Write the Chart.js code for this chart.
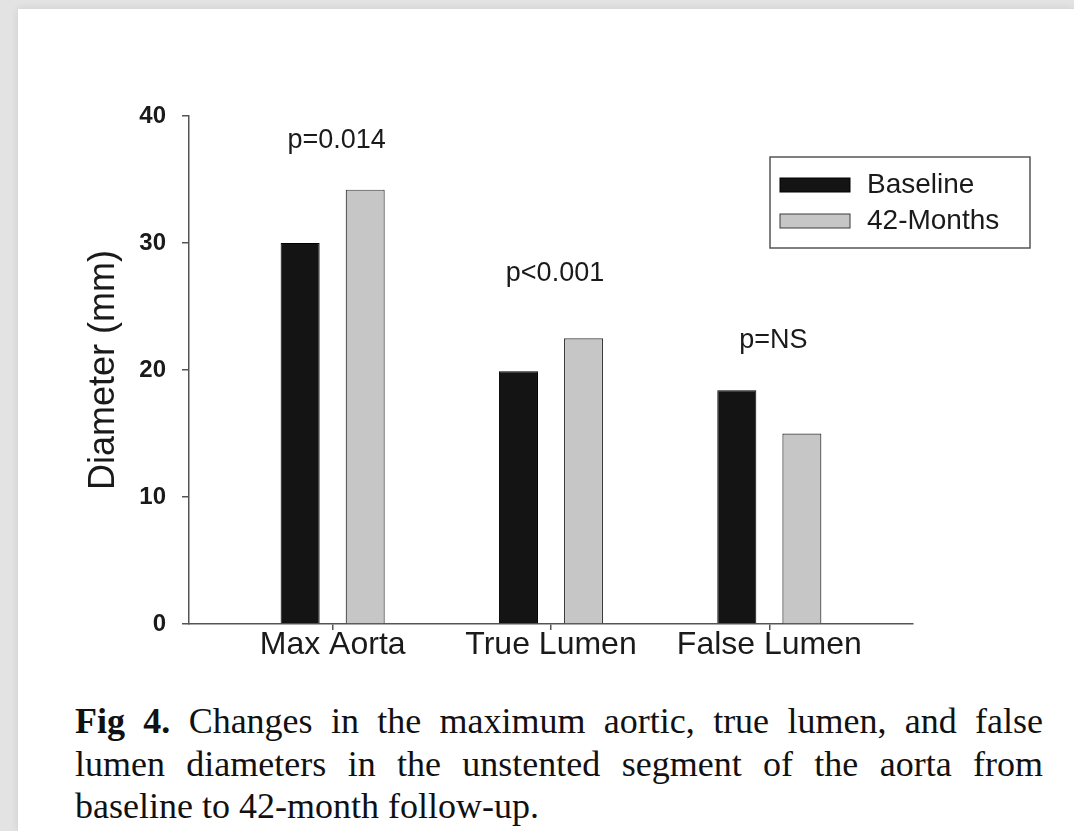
<!DOCTYPE html>
<html>
<head>
<meta charset="utf-8">
<script src="https://cdn.jsdelivr.net/npm/chart.js@4.4.1/dist/chart.umd.min.js"></script>
<style>
  html, body { margin: 0; padding: 0; }
  body { width: 1074px; height: 831px; background: #e3e3e3; position: relative; overflow: hidden; }
  .page { position: absolute; left: 18px; top: 9px; right: 0; bottom: 0; background: #fff; box-shadow: 0 0 8px rgba(0,0,0,0.10); }
  .chart-box { position: absolute; left: 0; top: 0; width: 1074px; height: 690px; }
  .caption { position: absolute; left: 75px; top: 700px; width: 968px; font-family: "Liberation Serif", "Times New Roman", serif; font-size: 36px; line-height: 42.5px; color: #111; }
  .caption .ln { text-align: justify; text-align-last: justify; }
  .caption .last { text-align: left; }
</style>
</head>
<body>
<div class="page"></div>
<div class="chart-box"><canvas id="myChart"></canvas></div>
<div class="caption">
  <div class="ln"><b>Fig 4.</b> Changes in the maximum aortic, true lumen, and false</div>
  <div class="ln">lumen diameters in the unstented segment of the aorta from</div>
  <div class="last">baseline to 42-month follow-up.</div>
</div>
<script>
const categories = ["Max Aorta", "True Lumen", "False Lumen"];
const baseline = [30.0, 19.9, 18.4];
const months42 = [34.2, 22.5, 15.0];
const pLabels = ["p=0.014", "p<0.001", "p=NS"];
const pLabelY = [38.1, 27.6, 22.3];
const yTicks = [0, 10, 20, 30, 40];

const FONT = '"Liberation Sans", Arial, sans-serif';
Chart.defaults.font.family = FONT;

// p-value text above each group
const pValues = {
    id: "pValues",
    afterDatasetsDraw(chart) {
        const ctx = chart.ctx;
        const xs = chart.scales.x, ys = chart.scales.y;
        ctx.save();
        ctx.font = "27px " + FONT;
        ctx.fillStyle = "#1a1a1a";
        ctx.textAlign = "center";
        ctx.textBaseline = "middle";
        pLabels.forEach((t, i) => {
            ctx.fillText(t, xs.getPixelForValue(i + 1) + 4, ys.getPixelForValue(pLabelY[i]));
        });
        ctx.restore();
    }
};

// boxed legend in the upper right
const boxLegend = {
    id: "boxLegend",
    afterDraw(chart) {
        const ctx = chart.ctx;
        ctx.save();
        ctx.strokeStyle = "#555";
        ctx.lineWidth = 1.5;
        ctx.strokeRect(770, 157, 260, 91);
        chart.data.datasets.forEach((ds, i) => {
            const y = 185 + i * 36;
            ctx.fillStyle = ds.backgroundColor;
            ctx.fillRect(780, y - 7, 70, 14);
            ctx.strokeStyle = ds.borderColor;
            ctx.lineWidth = 1;
            ctx.strokeRect(780, y - 7, 70, 14);
            ctx.fillStyle = "#1a1a1a";
            ctx.font = "28px " + FONT;
            ctx.textBaseline = "middle";
            ctx.textAlign = "left";
            ctx.fillText(ds.label, 867, y);
        });
        ctx.restore();
    }
};

var ctx = document.getElementById("myChart").getContext("2d");
var myChart = new Chart(ctx, {
    type: "bar",
    data: {
        datasets: [
            {
                label: "Baseline",
                data: baseline.map((v, i) => ({ x: i + 1, y: v })),
                backgroundColor: "#141414",
                borderColor: "#000",
                borderWidth: 1,
            },
            {
                label: "42-Months",
                data: months42.map((v, i) => ({ x: i + 1, y: v })),
                backgroundColor: "#c6c6c6",
                borderColor: "#3a3a3a",
                borderWidth: 1.2,
            },
        ],
    },
    options: {
        responsive: true,
        maintainAspectRatio: false,
        animation: false,
        categoryPercentage: 0.596,
        barPercentage: 0.6,
        layout: { padding: { left: 0, right: 161, top: 116, bottom: 10 } },
        plugins: {
            legend: { display: false },
            tooltip: { enabled: false },
        },
        scales: {
            x: {
                type: "linear",
                min: 0.342,
                max: 3.658,
                offset: false,
                afterBuildTicks: (s) => { s.ticks = categories.map((c, i) => ({ value: i + 1 })); },
                afterFit: (s) => { s.height = 56; },
                grid: { offset: false, drawOnChartArea: false, drawTicks: true, tickLength: 6, color: "#555", lineWidth: 1.5 },
                border: { display: true, color: "#555", width: 1.5 },
                ticks: {
                    autoSkip: false,
                    maxRotation: 0,
                    padding: -4,
                    color: "#1a1a1a",
                    font: { size: 32 },
                    callback: (v) => categories[v - 1],
                },
            },
            y: {
                min: 0,
                max: 40,
                afterBuildTicks: (s) => { s.ticks = yTicks.map((v) => ({ value: v })); },
                afterFit: (s) => { s.width = 189; },
                grid: { drawOnChartArea: false, drawTicks: true, tickLength: 7, color: "#555", lineWidth: 1.5 },
                border: { display: true, color: "#555", width: 1.5 },
                ticks: { padding: 16, color: "#1a1a1a", font: { size: 24, weight: "bold" } },
                title: {
                    display: true,
                    text: "Diameter (mm)",
                    color: "#1a1a1a",
                    font: { size: 36 },
                    padding: { top: 82, bottom: 0 },
                },
            },
        },
    },
    plugins: [pValues, boxLegend],
});
</script>
</body>
</html>
